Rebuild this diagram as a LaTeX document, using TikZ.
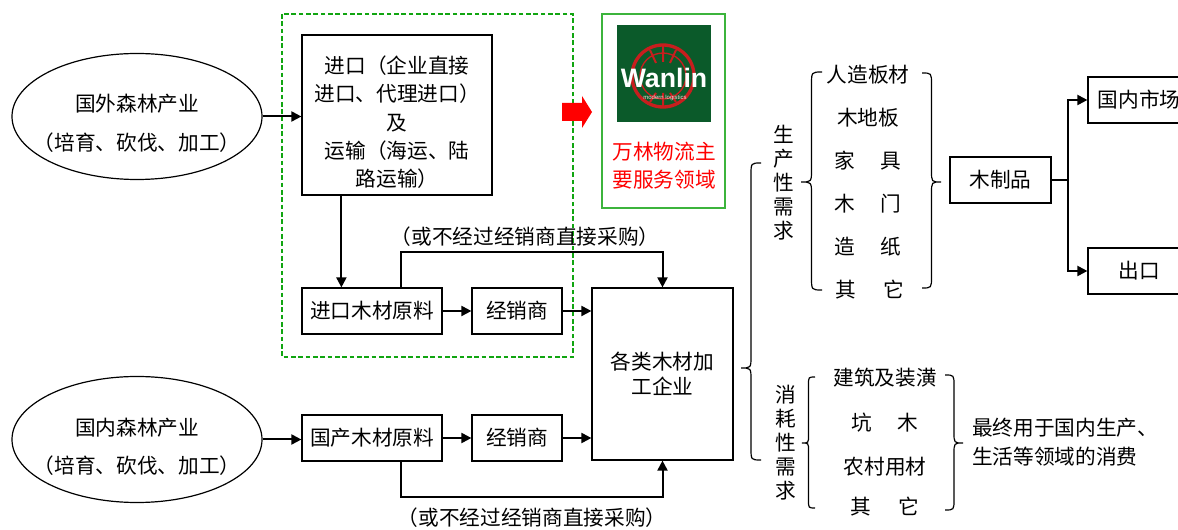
\documentclass[tikz,border=0pt]{standalone}
\usepackage{fontspec}
\setmainfont{Noto Sans CJK SC}
\newfontfamily\logofont{Liberation Sans}
\usetikzlibrary{shapes.geometric,arrows.meta}
\definecolor{logozelena}{HTML}{0B5A2A}
\definecolor{logordeca}{HTML}{C81E1E}
\definecolor{crtkana}{HTML}{11A511}
\definecolor{okvirzelen}{HTML}{3CB43C}
\tikzset{
 every node/.style={font=\fontsize{15.5}{20}\selectfont},
 okvir/.style={draw, line width=0.9pt, inner sep=0pt, align=center},
 elipsa/.style={draw, ellipse, line width=0.9pt, inner sep=0pt, align=center, minimum width=187.5pt, minimum height=94.5pt, font=\fontsize{15.5}{29}\selectfont},
 napis/.style={inner sep=0pt, align=center},
 povezava/.style={line width=1.5pt, -{Triangle[length=7.5pt,width=7.5pt]}},
 spoj/.style={line width=1.5pt},
 zavit/.style={line width=0.9pt},
}
\newcommand{\oklepaj}[5]{% x konice, y zgoraj, y konice, y spodaj, sirina (minus: desni)
 \pgfmathsetmacro{\Pol}{#1+0.5*(#5)}
 \pgfmathsetmacro{\Rob}{#1+(#5)}
 \pgfmathsetmacro{\Rr}{abs(#5)*0.6}
\draw[zavit] (\Rob,#2) .. controls (\Pol,#2) and (\Pol,#2) .. (\Pol,#2+\Rr) -- (\Pol,#3-\Rr)
 .. controls (\Pol,#3) and (\Pol,#3) .. (#1,#3) .. controls (\Pol,#3) and (\Pol,#3) .. (\Pol,#3+\Rr)
 -- (\Pol,#4-\Rr) .. controls (\Pol,#4) and (\Pol,#4) .. (\Rob,#4);
}
\begin{document}
\begin{tikzpicture}[x=0.75pt,y=-0.75pt]
			\useasboundingbox (0,0) rectangle (1178,530);

			% uvoz in domaci les
			\node[elipsa] (tuji) at (137,116.5) {\makebox[0pt]{\rule{0pt}{23pt}国外森林产业}\\\makebox[0pt]{（培育、砍伐、加工）}};
			\node[okvir, minimum width=142.5pt, minimum height=120pt, font=\fontsize{15.5}{21.2}\selectfont] (uvoz) at (397,115) {\rule{0pt}{24pt}进口（企业直接\\进口、代理进口）\\及\\运输（海运、陆\\路运输）};
			\node[okvir, minimum width=105pt, minimum height=34.5pt] (uvozles) at (372,311) {进口木材原料};
			\node[okvir, minimum width=67.5pt, minimum height=34.5pt] (trgovec1) at (517,311) {经销商};
			\node[okvir, minimum width=105.75pt, minimum height=129pt, font=\fontsize{15.5}{18.75}\selectfont] (predelava) at (662.5,374) {各类木材加\\工企业};
			\node[elipsa] (domaci) at (137,439.5) {\makebox[0pt]{\rule{0pt}{24pt}国内森林产业}\\\makebox[0pt]{（培育、砍伐、加工）}};
			\node[okvir, minimum width=105pt, minimum height=34.5pt] (domles) at (372,438) {国产木材原料};
			\node[okvir, minimum width=67.5pt, minimum height=34.5pt] (trgovec2) at (517,438) {经销商};

			\draw[crtkana, line width=0.8pt, dash pattern=on 3.5pt off 2pt] (282,14) rectangle (573,357);

			\draw[povezava] (tuji.east) -- (tuji.east -| uvoz.west);
			\draw[povezava] ([xshift=30pt]uvoz.south west) -- ([xshift=30pt]uvozles.north west);
			\draw[povezava] (uvozles) -- (trgovec1);
			\draw[povezava] (trgovec1.east) -- (trgovec1.east -| predelava.west);
			\draw[povezava] (domaci.east) -- (domaci.east -| domles.west);
			\draw[povezava] (domles) -- (trgovec2);
			\draw[povezava] (trgovec2.east) -- (trgovec2.east -| predelava.west);

			\coordinate (zgoraj) at (530,252);
			\coordinate (spodaj) at (530,497);
			\draw[povezava] ([xshift=75pt]uvozles.north west) |- (zgoraj) -| (predelava.north);
			\draw[povezava] ([xshift=75pt]domles.south west) |- (spodaj) -| (predelava.south);
			\node[napis] (mimo1) at (525,237) {（或不经过经销商直接采购）};
			\node[napis] (mimo2) at (532,518) {（或不经过经销商直接采购）};

			% Wanlin
			\fill[red] (562,103) -- (582,103) -- (582,96) -- (592,112) -- (582,128) -- (582,121) -- (562,121) -- cycle;
			\draw[okvirzelen, line width=1pt] (602,14) rectangle (725,208);
			\fill[logozelena] (617,25) rectangle (711,122);
			\draw[logordeca, line width=2.5pt] (663,76) circle [radius=31];
			\draw[logordeca, line width=1pt] (663,76) circle [radius=23];
			\draw[logordeca, line width=1.5pt] (663,46) -- (663,62) (650,50) -- (656,63) (676,50) -- (670,63);
			\draw[logordeca, line width=1.5pt] (663,106) -- (663,93) (650,102) -- (656,93) (676,102) -- (670,93);
			\node[inner sep=0pt, text=white, font=\logofont\bfseries\fontsize{20}{20}\selectfont] (wanlin) at (664,78) {Wanlin};
			\node[inner sep=0pt, text=white!85!red, font=\logofont\fontsize{4.5}{5}\selectfont] (geslo) at (665,98) {modern logistics};
			\node[napis, text=red, font=\fontsize{15.5}{21}\selectfont] (opomba) at (664,166) {万林物流主\\要服务领域};

			% povprasevanje
			\oklepaj{741}{163}{368}{460}{20}
			\oklepaj{801}{72}{182}{290}{21}
			\oklepaj{941}{73}{182}{288}{-19}
			\oklepaj{802}{377}{443}{508}{13}
			\oklepaj{963}{375}{443}{510}{-18}

			\node[napis, font=\fontsize{15.5}{18}\selectfont] (proizv) at (784,183) {生\\产\\性\\需\\求};
			\node[napis, font=\fontsize{15.5}{18}\selectfont] (potros) at (786,443) {消\\耗\\性\\需\\求};
			\node[napis] (p1) at (868,75) {人造板材};
			\node[napis] (p2) at (868,118) {木地板};
			\node[napis] (p3) at (868,161) {家\hspace{1.2em}具};
			\node[napis] (p4) at (868,204) {木\hspace{1.2em}门};
			\node[napis] (p5) at (868,247) {造\hspace{1.2em}纸};
			\node[napis] (p6) at (870,290) {其\hspace{1.3em}它};
			\node[napis] (c1) at (885,378) {建筑及装潢};
			\node[napis] (c2) at (885,423) {坑\hspace{1.2em}木};
			\node[napis] (c3) at (885,467) {农村用材};
			\node[napis] (c4) at (885,507) {其\hspace{1.3em}它};
			\node[napis, align=left, anchor=west, font=\fontsize{15.5}{22}\selectfont] (koncna) at (972,442.5) {最终用于国内生产、\\生活等领域的消费};

			\node[okvir, minimum width=75.75pt, minimum height=34.5pt] (izdelki) at (1000.5,180) {木制品};
			\node[okvir, minimum width=76.5pt, minimum height=34.5pt] (trg) at (1139,100) {国内市场};
			\node[okvir, minimum width=76.5pt, minimum height=34.5pt] (izvoz) at (1139,271) {出口};
			\coordinate (razcep) at (1068,180);
			\draw[spoj] (izdelki.east) -- (razcep);
			\draw[povezava] (razcep) |- (trg.west);
			\draw[povezava] (razcep) |- (izvoz.west);

			\end{tikzpicture}
\end{document}
